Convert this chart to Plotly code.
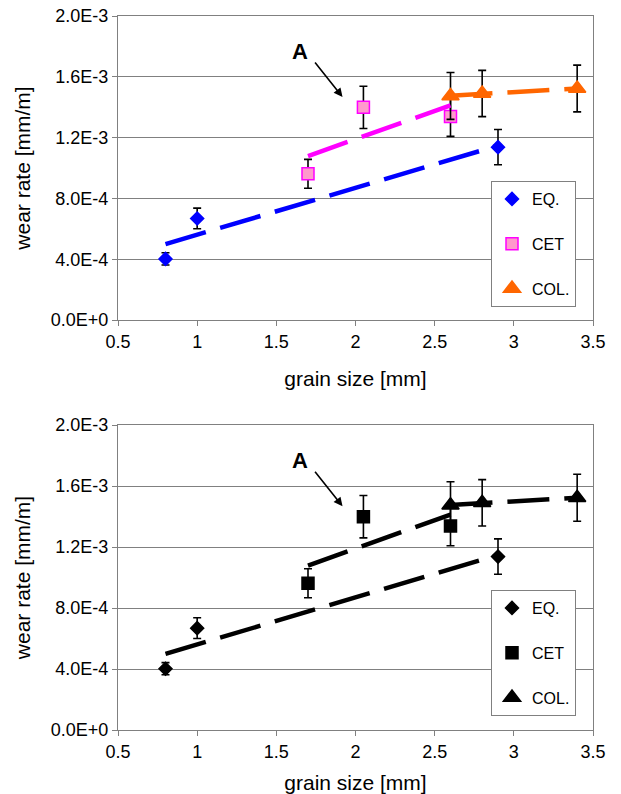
import numpy as np
import plotly.graph_objects as go

# ---------------- data ----------------
eq_x = [0.8, 1.0, 2.9]
eq_y = [4.02e-4, 6.68e-4, 1.137e-3]
eq_err = [0.40e-4, 0.68e-4, 1.16e-4]

cet_x = [1.7, 2.05, 2.6]
cet_y = [9.62e-4, 1.399e-3, 1.338e-3]
cet_err = [0.95e-4, 1.39e-4, 1.30e-4]

col_x = [2.6, 2.8, 3.4]
col_y = [1.474e-3, 1.490e-3, 1.523e-3]
col_err = [1.54e-4, 1.52e-4, 1.54e-4]

series_names = ["EQ.", "CET", "COL."]

x_tickvals = [0.5, 1.0, 1.5, 2.0, 2.5, 3.0, 3.5]
x_ticktext = ["0.5", "1", "1.5", "2", "2.5", "3", "3.5"]
y_tickvals = [0.0, 4e-4, 8e-4, 1.2e-3, 1.6e-3, 2.0e-3]
y_ticktext = ["0.0E+0", "4.0E-4", "8.0E-4", "1.2E-3", "1.6E-3", "2.0E-3"]

x_title = "grain size [mm]"
y_title = "wear rate [mm/m]"
label_a = "A"

# ---------------- styles ----------------
FONT = "Arial, 'Liberation Sans', sans-serif"
GRAY = "#808080"

color_styles = [
    dict(symbol="diamond", size=10, fill="#0000FF", edge="#0000FF", line="#0000FF"),
    dict(symbol="square", size=12, fill="#FF99CC", edge="#FF00FF", line="#FF00FF"),
    dict(symbol="triangle-up", size=15, fill="#FF6600", edge="#FF6600", line="#FF6600"),
]
black_styles = [
    dict(symbol="diamond", size=10, fill="#000000", edge="#000000", line="#000000"),
    dict(symbol="square", size=12, fill="#000000", edge="#000000", line="#000000"),
    dict(symbol="triangle-up", size=15, fill="#000000", edge="#000000", line="#000000"),
]

datasets = [(eq_x, eq_y, eq_err), (cet_x, cet_y, cet_err), (col_x, col_y, col_err)]

fig = go.Figure()

panels = [("x", "y", "legend", color_styles), ("x2", "y2", "legend2", black_styles)]

for xa, ya, leg, styles in panels:
    # markers with error bars
    for i, ((xs, ys, es), st) in enumerate(zip(datasets, styles)):
        fig.add_trace(go.Scatter(
            x=xs, y=ys, mode="markers", name=series_names[i],
            xaxis=xa, yaxis=ya, legend=leg, legendgroup=f"{leg}_{i}",
            marker=dict(symbol=st["symbol"], size=st["size"], color=st["fill"],
                        line=dict(color=st["edge"], width=1.5)),
            error_y=dict(type="data", array=es, visible=True, color="#000000",
                         thickness=1.6, width=4),
        ))
    # linear trendlines (least squares over each series)
    for i, ((xs, ys, es), st) in enumerate(zip(datasets, styles)):
        k, b = np.polyfit(xs, ys, 1)
        tx = [min(xs), max(xs)]
        ty = [k * v + b for v in tx]
        fig.add_trace(go.Scatter(
            x=tx, y=ty, mode="lines", showlegend=False, hoverinfo="skip",
            xaxis=xa, yaxis=ya,
            line=dict(color=st["line"], width=4.5, dash="42px,15px"),
        ))

axis_common = dict(
    showline=True, linecolor=GRAY, linewidth=1.2, mirror=True,
    ticks="outside", ticklen=5, tickcolor=GRAY, tickwidth=1, automargin=False,
    zeroline=False, tickfont=dict(family=FONT, size=18, color="#000000"),
)

W, H = 621, 794
ML, MR, MT, MB = 118, 28, 16, 64
PLOT_W = W - ML - MR
PLOT_H = H - MT - MB
AX_BOTTOM = H - MB  # figure y of the lower x axis
top_dom = [(AX_BOTTOM - 320) / PLOT_H, 1.0]
bot_dom = [0.0, (AX_BOTTOM - 425) / PLOT_H]

fig.update_layout(
    width=W, height=H, autosize=False,
    margin=dict(l=ML, r=MR, t=MT, b=MB, autoexpand=False),
    paper_bgcolor="white", plot_bgcolor="white",
    font=dict(family=FONT, color="#000000"),
    xaxis=dict(domain=[0, 1], anchor="y", range=[0.5, 3.5],
               tickvals=x_tickvals, ticktext=x_ticktext, showgrid=False,
               title=dict(text=x_title, font=dict(size=21), standoff=20), **axis_common),
    yaxis=dict(domain=top_dom, anchor="x", range=[0, 2.0e-3],
               tickvals=y_tickvals, ticktext=y_ticktext, showgrid=True,
               gridcolor=GRAY, gridwidth=1,
               title=dict(text=y_title, font=dict(size=21), standoff=14), **axis_common),
    xaxis2=dict(domain=[0, 1], anchor="y2", range=[0.5, 3.5],
                tickvals=x_tickvals, ticktext=x_ticktext, showgrid=False,
                title=dict(text=x_title, font=dict(size=21), standoff=20), **axis_common),
    yaxis2=dict(domain=bot_dom, anchor="x2", range=[0, 2.0e-3],
                tickvals=y_tickvals, ticktext=y_ticktext, showgrid=True,
                gridcolor=GRAY, gridwidth=1,
                title=dict(text=y_title, font=dict(size=21), standoff=14), **axis_common),
    legend=dict(x=(491 - ML) / PLOT_W, y=(AX_BOTTOM - 181) / PLOT_H, xanchor="left", yanchor="top",
                bordercolor=GRAY, borderwidth=1, bgcolor="white",
                font=dict(family=FONT, size=16), tracegroupgap=21, itemwidth=30),
    legend2=dict(x=(491 - ML) / PLOT_W, y=(AX_BOTTOM - 590) / PLOT_H, xanchor="left", yanchor="top",
                 bordercolor=GRAY, borderwidth=1, bgcolor="white",
                 font=dict(family=FONT, size=16), tracegroupgap=21, itemwidth=30),
    showlegend=True,
)

annotations = []
for xr, yr in [("x", "y"), ("x2", "y2")]:
    annotations.append(dict(
        x=1.649, y=1.765e-3, xref=xr, yref=yr, text="<b>" + label_a + "</b>", showarrow=False,
        font=dict(family=FONT, size=22, color="#000000"), xanchor="center", yanchor="middle",
    ))
    annotations.append(dict(
        x=1.918, y=1.467e-3, ax=1.737, ay=1.704e-3, xref=xr, yref=yr,
        axref=xr, ayref=yr, text="", showarrow=True, arrowhead=2, arrowsize=1.1,
        arrowwidth=1.6, arrowcolor="#000000", standoff=0, startstandoff=0,
    ))
fig.update_layout(annotations=annotations)

fig.write_html(
    "out.html",
    config={"displayModeBar": False},
    post_script="document.body.style.margin='0px';document.body.style.overflow='hidden';",
)
